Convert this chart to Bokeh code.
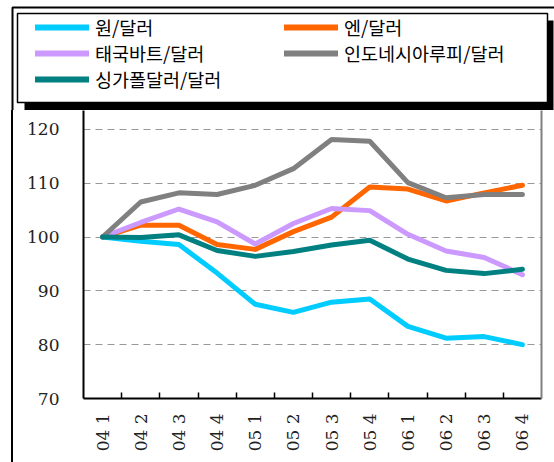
import numpy as np
from bokeh.plotting import figure
from bokeh.models import Range1d, FixedTicker, Legend, LegendItem, LinearAxis
from bokeh.embed import file_html
from bokeh.resources import INLINE

quarters = ["04 1", "04 2", "04 3", "04 4", "05 1", "05 2",
            "05 3", "05 4", "06 1", "06 2", "06 3", "06 4"]
won = [100, 99.2, 98.6, 93.3, 87.5, 86.0, 87.9, 88.5, 83.4, 81.2, 81.5, 80.0]
yen = [100, 102.2, 102.2, 98.6, 97.7, 101.0, 103.7, 109.3, 108.9, 106.7, 108.2, 109.6]
baht = [100, 102.7, 105.2, 102.8, 98.7, 102.5, 105.3, 104.9, 100.5, 97.4, 96.2, 93.0]
rupiah = [100, 106.5, 108.2, 107.9, 109.6, 112.7, 118.1, 117.8, 110.1, 107.3, 107.9, 107.9]
sgd = [100, 99.9, 100.4, 97.5, 96.4, 97.3, 98.5, 99.4, 95.9, 93.8, 93.2, 94.0]
y_ticks = [70, 80, 90, 100, 110, 120]

series = [
    ("원/달러", won, "#00CCFF"),
    ("엔/달러", yen, "#FF6600"),
    ("태국바트/달러", baht, "#CC99FF"),
    ("인도네시아루피/달러", rupiah, "#808080"),
    ("싱가폴달러/달러", sgd, "#008080"),
]
# legend is filled column by column: left column first, then right column
legend_order = [0, 2, 4, 1, 3]

n = len(quarters)
xs = [i + 0.5 for i in range(n)]

# ---------- legend panel (its own small figure, canvas-pixel ranges) ----------
leg = figure(width=554, height=110, output_backend="svg", toolbar_location=None,
             x_range=Range1d(0, 554), y_range=Range1d(110, 0),
             x_axis_type=None, y_axis_type=None, min_border=0)
leg.outline_line_color = None
leg.background_fill_color = "white"
leg.border_fill_color = "white"
# outer frame (left + top)
leg.line([12, 12, 554], [110, 7, 7], line_color="black", line_width=2)
# legend shadow and box
leg.quad(left=24, right=553, top=20, bottom=110, fill_color="black", line_alpha=0)
leg.quad(left=17, right=547, top=13, bottom=102, fill_color="white",
         line_color="black", line_width=1.5)

proxies = []
for name, vals, col in series:
    r = leg.line(xs, vals, line_color=col, line_width=6, line_cap="round", visible=False)
    proxies.append((name, r))

items = [LegendItem(label=proxies[i][0], renderers=[proxies[i][1]]) for i in legend_order]

legend = Legend(items=items, ncols=2, location=(35, 18),
                glyph_width=54, glyph_height=20, label_height=20, label_width=189,
                label_standoff=6, spacing=0, padding=0, margin=0,
                border_line_alpha=0, background_fill_alpha=0, inactive_fill_alpha=0,
                label_text_font="Noto Sans CJK KR", label_text_font_size="18.5px",
                label_text_color="black")
leg.add_layout(legend, "center")

# ---------- main chart ----------
p = figure(width=541, height=352, output_backend="svg", toolbar_location=None,
           x_range=Range1d(0, n), y_range=Range1d(70, 123.5),
           min_border_left=70, min_border_right=13,
           min_border_top=0, min_border_bottom=64,
           margin=(0, 0, 0, 11),
           styles={"border-left": "2px solid black"})
p.background_fill_color = "white"
p.border_fill_color = "white"
p.outline_line_color = None

for name, vals, col in series:
    p.line(xs, vals, line_color=col, line_width=5, line_cap="round", line_join="round")

serif = "DejaVu Serif"
p.xaxis.ticker = FixedTicker(ticks=xs, minor_ticks=list(range(1, n)))
p.xaxis.major_label_overrides = {x: q for x, q in zip(xs, quarters)}
p.xaxis.major_label_orientation = np.pi / 2
p.xaxis.major_tick_in = 0
p.xaxis.major_tick_out = 0
p.xaxis.minor_tick_in = 6
p.xaxis.minor_tick_out = 0
p.xaxis.minor_tick_line_color = "black"
p.xaxis.minor_tick_line_width = 1.5
p.xaxis.major_label_standoff = 15
p.xaxis.major_label_text_font = serif
p.xaxis.major_label_text_font_size = "17px"
p.xaxis.major_label_text_color = "#222222"
p.xaxis.axis_line_width = 2
p.xaxis.axis_line_color = "black"

p.yaxis.ticker = FixedTicker(ticks=y_ticks)
p.yaxis.major_tick_in = 0
p.yaxis.major_tick_out = 0
p.yaxis.minor_tick_line_color = None
p.yaxis.major_label_standoff = 24
p.yaxis.major_label_text_font = serif
p.yaxis.major_label_text_font_size = "17px"
p.yaxis.major_label_text_color = "#222222"
p.yaxis.axis_line_width = 2
p.yaxis.axis_line_color = "black"

right_axis = LinearAxis(ticker=FixedTicker(ticks=[]),
                        axis_line_color="#808080", axis_line_width=2,
                        major_tick_line_color=None, minor_tick_line_color=None,
                        major_label_standoff=0)
p.add_layout(right_axis, "right")

p.xgrid.visible = False
p.ygrid.ticker = FixedTicker(ticks=y_ticks[1:])
p.ygrid.grid_line_color = "#999999"
p.ygrid.grid_line_dash = "7 5"
p.ygrid.grid_line_width = 1

open("out.html", "w").write(file_html([leg, p], INLINE))
